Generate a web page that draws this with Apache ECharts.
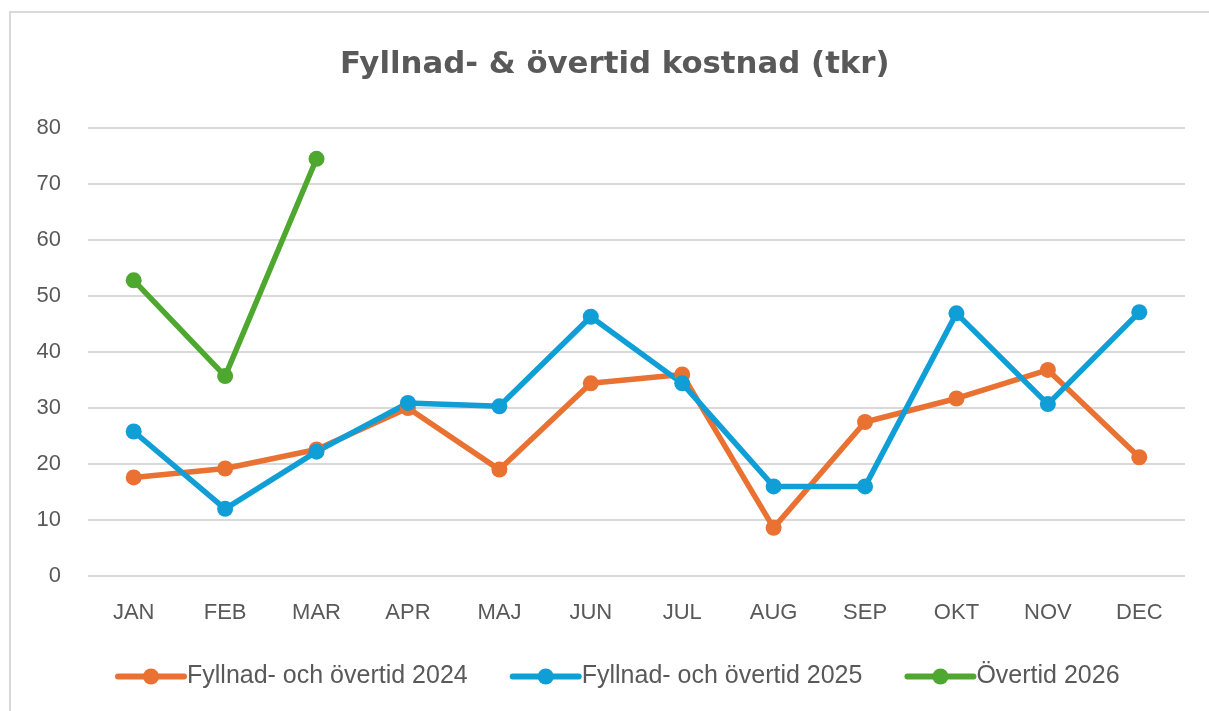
<!DOCTYPE html>
<html><head><meta charset="utf-8">
<script src="https://cdn.jsdelivr.net/npm/echarts@6/dist/echarts.min.js"></script>
<style>html,body{margin:0;padding:0;background:#fff}#c{width:1209px;height:711px}</style>
</head><body><div id="c"></div>
<script>
const categories = ['JAN','FEB','MAR','APR','MAJ','JUN','JUL','AUG','SEP','OKT','NOV','DEC'];
const seriesNames = ['Fyllnad- och övertid 2024','Fyllnad- och övertid 2025','Övertid 2026'];
const values2024 = [17.6, 19.2, 22.6, 30.0, 19.0, 34.4, 36.0, 8.6, 27.5, 31.7, 36.8, 21.2];
const values2025 = [25.8, 12.0, 22.2, 30.9, 30.3, 46.3, 34.4, 16.0, 16.0, 46.9, 30.7, 47.1];
const values2026 = [52.8, 35.7, 74.5];
const yTicks = [0, 10, 20, 30, 40, 50, 60, 70, 80];
const colors = ['#E97132', '#0F9ED5', '#4EA72E'];
const titleText = 'Fyllnad- & övertid kostnad (tkr)';

const chart = echarts.init(document.getElementById('c'), null, {renderer: 'canvas'});
const font = 'Liberation Sans, Arial, sans-serif';
function mk(name, data, color) {
  return {
    name, type: 'line', data, symbol: 'circle', symbolSize: 16,
    lineStyle: {width: 5.5, color}, itemStyle: {color}, animation: false
  };
}
chart.setOption({
  animation: false,
  color: colors,
  graphic: [{type: 'rect', shape: {x: 10, y: 12, width: 1400, height: 900},
    style: {fill: 'none', stroke: '#D9D9D9', lineWidth: 2}, silent: true, z: -1}],
  title: {text: titleText, left: 335, top: 44,
    textStyle: {fontFamily: 'DejaVu Sans, sans-serif', fontSize: 30.8, fontWeight: 'bold', color: '#595959'}},
  grid: {left: 88, right: 24, top: 128, bottom: 135},
  legend: {bottom: 17, left: 110, itemWidth: 66, itemHeight: 20, itemGap: 42,
    lineStyle: {width: 6, cap: 'round'},
    textStyle: {fontFamily: font, fontSize: 25, color: '#595959', padding: [0, 0, 0, -2]},
    data: seriesNames},
  xAxis: {type: 'category', data: categories, boundaryGap: true,
    axisLine: {show: false}, axisTick: {show: false},
    axisLabel: {fontFamily: font, fontSize: 22, color: '#595959', margin: 26}},
  yAxis: {type: 'value', min: yTicks[0], max: yTicks[yTicks.length-1], interval: 10,
    axisLine: {show: false}, axisTick: {show: false},
    splitLine: {lineStyle: {color: '#D9D9D9', width: 2}},
    axisLabel: {fontFamily: font, fontSize: 22, color: '#595959', margin: 27}},
  series: [mk(seriesNames[0], values2024, colors[0]), mk(seriesNames[1], values2025, colors[1]), mk(seriesNames[2], values2026, colors[2])]
});
</script></body></html>
